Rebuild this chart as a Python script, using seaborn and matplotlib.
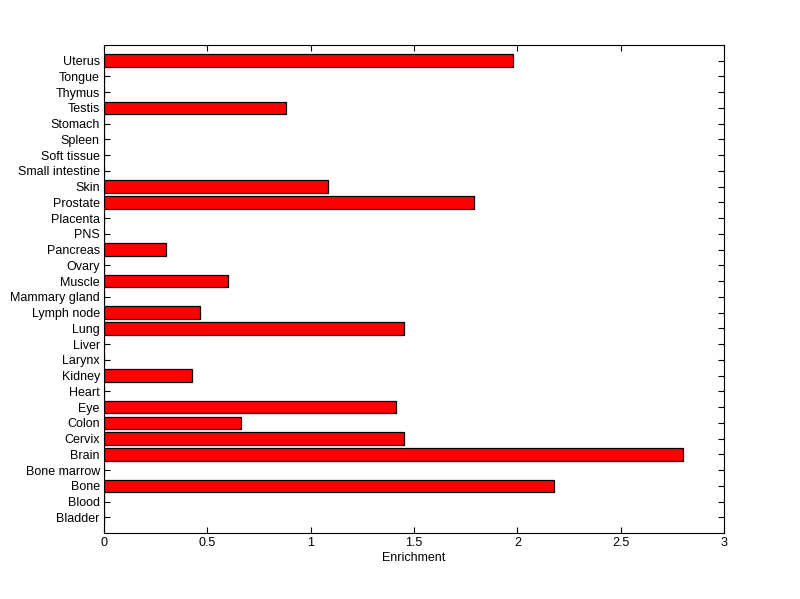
import pandas as pd
import matplotlib
matplotlib.use("Agg")
import matplotlib.pyplot as plt
import seaborn as sns

sns.set_style("white")
plt.rcParams["font.family"] = ["Liberation Sans", "DejaVu Sans"]
plt.rcParams["font.size"] = 9
plt.rcParams["text.color"] = "black"
plt.rcParams["axes.labelcolor"] = "black"

# tissues listed top to bottom as in the figure
tissues = ["Uterus", "Tongue", "Thymus", "Testis", "Stomach", "Spleen",
           "Soft tissue", "Small intestine", "Skin", "Prostate", "Placenta",
           "PNS", "Pancreas", "Ovary", "Muscle", "Mammary gland", "Lymph node",
           "Lung", "Liver", "Larynx", "Kidney", "Heart", "Eye", "Colon",
           "Cervix", "Brain", "Bone marrow", "Bone", "Blood", "Bladder"]
enrichment = [1.98, 0, 0, 0.88, 0, 0,
              0, 0, 1.085, 1.79, 0,
              0, 0.30, 0, 0.60, 0, 0.466,
              1.45, 0, 0, 0.428, 0, 1.415, 0.665,
              1.45, 2.80, 0, 2.175, 0, 0]
xticks = [0, 0.5, 1, 1.5, 2, 2.5, 3]
xtick_labels = ["0", "0.5", "1", "1.5", "2", "2.5", "3"]

df = pd.DataFrame({"Tissue": tissues, "Enrichment": enrichment})

fig = plt.figure(figsize=(8, 5.99), dpi=100)
ax = fig.add_axes([0.13, 0.11, 0.775, 0.815])

sns.barplot(data=df, x="Enrichment", y="Tissue", order=tissues, orient="h",
            color="#ff0000", saturation=1, edgecolor="black", linewidth=0.9,
            width=0.8, ax=ax)

ax.set_xlim(0, 3)
ax.set_ylim(30, -1)
ax.set_xticks(xticks)
ax.set_xticklabels(xtick_labels)
ax.set_xlabel("Enrichment", labelpad=2, fontsize=9, color="black")
ax.set_ylabel("")

for s in ax.spines.values():
    s.set_visible(True)
    s.set_color("black")
    s.set_linewidth(0.8)

ax.tick_params(axis="both", direction="in", length=4.5, width=0.8,
               colors="black", labelsize=9, pad=3)
ax.tick_params(top=True, right=True, bottom=True, left=True)
ax.grid(False)

fig.savefig("out.png", dpi=100, facecolor="white")
